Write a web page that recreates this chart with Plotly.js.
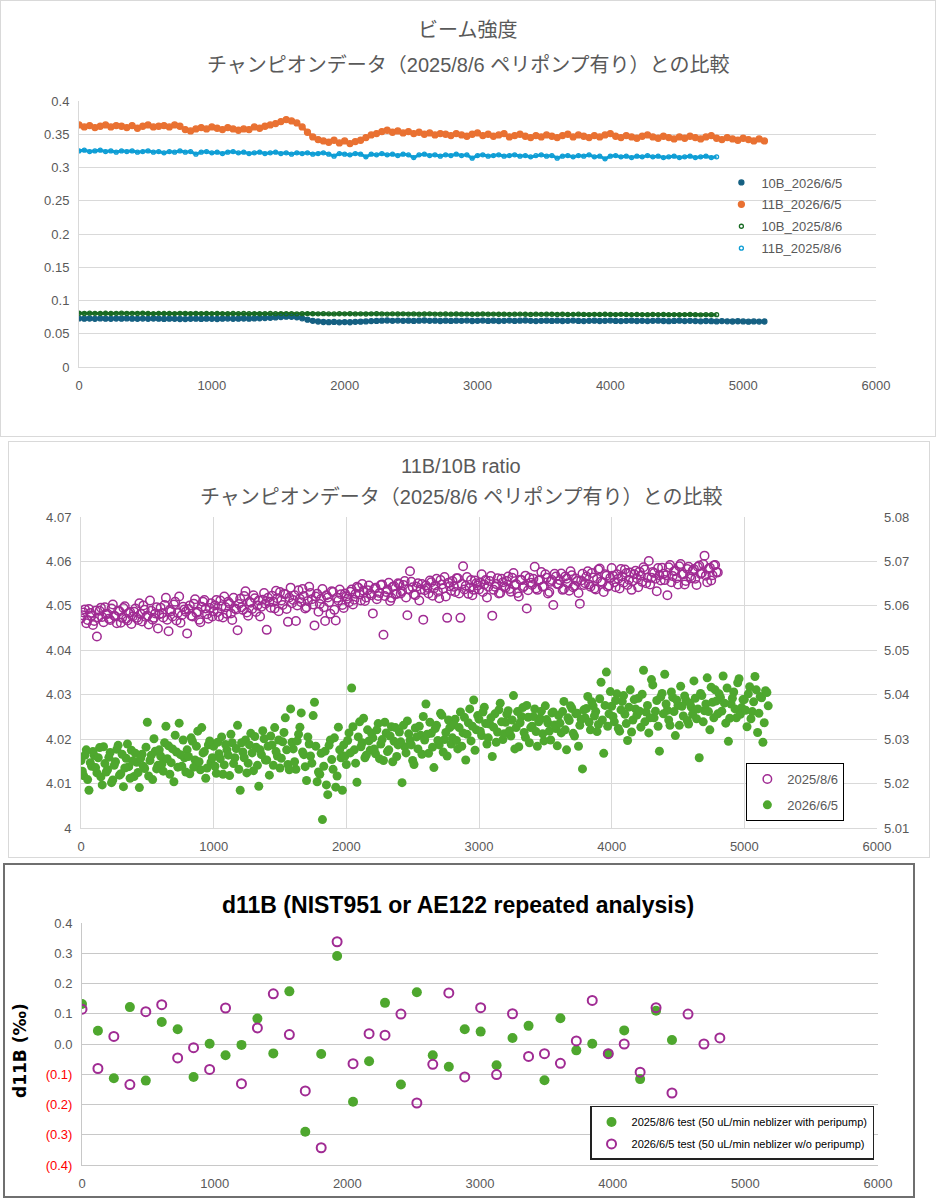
<!DOCTYPE html>
<html>
<head>
<meta charset="utf-8">
<script src="https://cdn.plot.ly/plotly-3.0.1.min.js"></script>
<style>
  body { margin: 0; background: #fff; }
  .panel { position: absolute; background: #fff; }
  #beam { left: 0; top: 0; width: 934px; height: 435px; border: 1px solid #d9d9d9; }
  #ratio { left: 8px; top: 441px; width: 920px; height: 415px; border: 1px solid #d9d9d9; }
  #delta { left: 3px; top: 863px; width: 908px; height: 331px; border: 2px solid #6f6f6f; }
</style>
</head>
<body>
<div id="beam" class="panel"></div>
<div id="ratio" class="panel"></div>
<div id="delta" class="panel"></div>
<script>
// ---- beam intensity, one reading every 40 units ----
const BEAM_STEP = 40;
const beam10B_2026 = [
  .0731,.0726,.0729,.0724,.0730,.0727,.0725,.0729,.0726,.0730,
  .0727,.0724,.0728,.0725,.0729,.0726,.0723,.0727,.0725,.0722,
  .0720,.0724,.0726,.0723,.0727,.0725,.0722,.0726,.0728,.0725,
  .0727,.0729,.0726,.0730,.0733,.0736,.0740,.0745,.0752,.0757,
  .0755,.0748,.0732,.0712,.0695,.0684,.0677,.0674,.0678,.0672,
  .0676,.0673,.0679,.0682,.0686,.0690,.0693,.0697,.0699,.0695,
  .0698,.0694,.0697,.0693,.0696,.0699,.0694,.0697,.0692,.0696,
  .0693,.0697,.0694,.0698,.0692,.0695,.0698,.0693,.0696,.0692,
  .0695,.0698,.0693,.0696,.0699,.0694,.0691,.0695,.0697,.0693,
  .0696,.0692,.0695,.0698,.0693,.0690,.0694,.0697,.0692,.0695,
  .0698,.0693,.0690,.0694,.0696,.0692,.0695,.0691,.0694,.0697,
  .0692,.0689,.0693,.0696,.0691,.0694,.0690,.0687,.0692,.0689,
  .0686,.0690,.0687,.0684,.0688,.0685,.0682,.0686,.0683,.0684
];
const beam11B_2026 = [
  .364,.361,.363,.360,.362,.364,.361,.363,.362,.360,
  .363,.359,.362,.364,.361,.362,.363,.361,.364,.362,
  .357,.355,.358,.360,.358,.361,.359,.357,.360,.358,
  .356,.358,.357,.361,.359,.362,.364,.366,.369,.372,
  .370,.367,.361,.353,.346,.342,.340,.338,.341,.337,
  .340,.336,.339,.341,.345,.349,.351,.354,.356,.353,
  .355,.352,.354,.351,.353,.350,.352,.349,.351,.350,
  .348,.351,.349,.347,.350,.352,.348,.350,.347,.349,
  .351,.346,.348,.350,.347,.345,.348,.346,.349,.347,
  .345,.348,.350,.346,.349,.347,.345,.348,.346,.349,
  .351,.347,.345,.348,.346,.344,.347,.349,.346,.344,
  .347,.345,.343,.346,.344,.347,.345,.343,.346,.348,
  .344,.342,.345,.343,.341,.344,.342,.340,.343,.340
];
const beam10B_2025 = [
  .0808,.0806,.0809,.0807,.0805,.0808,.0806,.0807,.0809,.0805,
  .0807,.0805,.0808,.0806,.0804,.0807,.0805,.0806,.0804,.0807,
  .0805,.0803,.0806,.0804,.0805,.0803,.0806,.0804,.0802,.0805,
  .0803,.0805,.0802,.0804,.0801,.0803,.0805,.0802,.0804,.0801,
  .0803,.0800,.0802,.0804,.0801,.0799,.0802,.0800,.0798,.0801,
  .0799,.0801,.0798,.0800,.0797,.0799,.0801,.0798,.0796,.0799,
  .0797,.0799,.0796,.0798,.0795,.0797,.0799,.0796,.0794,.0797,
  .0795,.0797,.0794,.0796,.0793,.0795,.0797,.0794,.0796,.0793,
  .0795,.0792,.0794,.0796,.0793,.0791,.0794,.0792,.0795,.0793,
  .0791,.0793,.0790,.0792,.0794,.0791,.0789,.0792,.0790,.0793,
  .0791,.0789,.0792,.0790,.0788,.0791,.0789,.0787,.0790,.0788,
  .0790,.0787,.0789,.0786,.0788,.0790,.0787,.0785,.0788,.0786,
  .0787
];
const beam11B_2025 = [
  .325,.326,.324,.325,.326,.324,.325,.323,.325,.324,
  .325,.323,.324,.325,.323,.324,.322,.324,.323,.325,
  .323,.324,.320,.323,.324,.322,.323,.321,.323,.324,
  .322,.323,.321,.322,.323,.321,.322,.323,.321,.322,
  .320,.322,.321,.322,.320,.321,.322,.320,.317,.321,
  .320,.319,.321,.320,.316,.320,.319,.321,.319,.320,
  .318,.320,.319,.315,.319,.320,.318,.319,.317,.319,
  .318,.320,.318,.319,.314,.318,.319,.317,.318,.319,
  .317,.318,.319,.317,.318,.316,.318,.319,.317,.318,
  .314,.317,.318,.316,.318,.317,.319,.316,.317,.313,
  .317,.318,.316,.317,.315,.317,.316,.318,.316,.317,
  .315,.316,.317,.315,.316,.317,.315,.316,.317,.315,
  .316
];
const beamNames = ['10B_2026/6/5', '11B_2026/6/5', '10B_2025/8/6', '11B_2025/8/6'];

// ---- 11B/10B ratio: readings every 20 units, plus the readings taken halfway between ----
const RATIO_STEP = 20;
const ratio2026 = [
  4.0152,4.0118,4.0176,4.0085,4.0139,4.0163,4.0124,4.0181,4.0097,4.0145,
  4.0131,4.0170,4.0108,4.0149,4.0186,4.0122,4.0093,4.0157,4.0138,4.0175,
  4.0116,4.0148,4.0091,4.0166,4.0134,4.0238,4.0152,4.0109,4.0173,4.0141,
  4.0162,4.0128,4.0229,4.0185,4.0147,4.0104,4.0171,4.0236,4.0139,4.0158,
  4.0176,4.0122,4.0195,4.0153,4.0218,4.0131,4.0169,4.0112,4.0187,4.0148,
  4.0184,4.0123,4.0167,4.0205,4.0142,4.0176,4.0118,4.0192,4.0158,4.0231,
  4.0085,4.0171,4.0198,4.0146,4.0213,4.0129,4.0182,4.0094,4.0165,4.0201,
  4.0153,4.0119,4.0187,4.0226,4.0162,4.0135,4.0194,4.0248,4.0143,4.0268,
  4.0178,4.0132,4.0211,4.0259,4.0165,4.0107,4.0189,4.0146,4.0283,4.0104,
  4.0121,4.0019,4.0173,4.0075,4.0198,4.0132,4.0092,4.0227,4.0158,4.0187,
  4.0143,4.0214,4.0315,4.0176,4.0103,4.0239,4.0192,4.0158,4.0221,4.0175,
  4.0203,4.0167,4.0235,4.0189,4.0152,4.0214,4.0176,4.0228,4.0195,4.0161,
  4.0216,4.0102,4.0183,4.0241,4.0197,4.0152,4.0225,4.0178,4.0209,4.0251,
  4.0279,4.0168,4.0213,4.0136,4.0231,4.0187,4.0254,4.0199,4.0162,4.0226,
  4.0203,4.0245,4.0178,4.0261,4.0214,4.0153,4.0237,4.0196,4.0288,4.0221,
  4.0245,4.0208,4.0272,4.0189,4.0234,4.0161,4.0257,4.0216,4.0281,4.0199,
  4.0238,4.0264,4.0207,4.0298,4.0226,4.0183,4.0251,4.0215,4.0276,4.0192,
  4.0229,4.0268,4.0184,4.0247,4.0212,4.0275,4.0236,4.0198,4.0261,4.0224,
  4.0253,4.0214,4.0285,4.0176,4.0242,4.0269,4.0207,4.0258,4.0231,4.0133,
  4.0248,4.0296,4.0221,4.0275,4.0262,4.0233,4.0328,4.0168,4.0351,4.0257,
  4.0274,4.0239,4.0302,4.0218,4.0285,4.0256,4.0197,4.0311,4.0243,4.0268,
  4.0292,4.0227,4.0355,4.0261,4.0214,4.0334,4.0248,4.0287,4.0173,4.0303,
  4.0346,4.0265,4.0231,4.0294,4.0208,4.0276,4.0319,4.0252,4.0287,4.0234,
  4.0272,4.0331,4.0246,4.0158,4.0298,4.0264,4.0338,4.0221,4.0283,4.0311,
  4.0257,4.0294,4.0342,4.0236,4.0195,4.0279,4.0306,4.0248,4.0336,4.0271,
  4.0289,4.0228,4.0318,4.0262,4.0341,4.0215,4.0296,4.0193,4.0309,4.0275
];
const ratio2026Mid = [
  4.0128,4.0164,4.0109,4.0147,4.0172,4.0136,4.0158,4.0115,4.0183,4.0126,
  4.0159,4.0102,4.0141,4.0177,4.0119,4.0166,4.0135,4.0189,4.0112,4.0151,
  4.0168,4.0125,4.0157,4.0139,4.0182,4.0117,4.0164,4.0201,4.0133,4.0176,
  4.0144,4.0192,4.0156,4.0121,4.0178,4.0209,4.0137,4.0165,4.0198,4.0126,
  4.0161,4.0203,4.0137,4.0184,4.0149,4.0226,4.0172,4.0135,4.0196,4.0158,
  4.0139,4.0193,4.0156,4.0121,4.0188,4.0164,4.0211,4.0145,4.0179,4.0132,
  4.0192,4.0158,4.0124,4.0187,4.0169,4.0206,4.0141,4.0176,4.0219,4.0153,
  4.0184,4.0207,4.0141,4.0172,4.0198,4.0157,4.0215,4.0176,4.0131,4.0193,
  4.0149,4.0196,4.0227,4.0171,4.0138,4.0205,4.0162,4.0253,4.0184,4.0126,
  4.0168,4.0139,4.0097,4.0186,4.0154,4.0203,4.0117,4.0176,4.0085,4.0162,
  4.0197,4.0169,4.0228,4.0146,4.0205,4.0183,4.0247,4.0164,4.0196,4.0213,
  4.0178,4.0221,4.0156,4.0199,4.0238,4.0172,4.0207,4.0149,4.0226,4.0187,
  4.0194,4.0231,4.0169,4.0212,4.0187,4.0143,4.0205,4.0229,4.0166,4.0198,
  4.0211,4.0238,4.0182,4.0224,4.0197,4.0258,4.0171,4.0215,4.0243,4.0189,
  4.0232,4.0197,4.0226,4.0184,4.0249,4.0211,4.0268,4.0229,4.0175,4.0253,
  4.0218,4.0261,4.0235,4.0203,4.0248,4.0227,4.0193,4.0266,4.0239,4.0212,
  4.0256,4.0219,4.0243,4.0178,4.0262,4.0237,4.0271,4.0204,4.0249,4.0226,
  4.0251,4.0217,4.0239,4.0263,4.0196,4.0244,4.0218,4.0259,4.0232,4.0185,
  4.0236,4.0262,4.0221,4.0248,4.0275,4.0213,4.0257,4.0184,4.0244,4.0266,
  4.0269,4.0238,4.0284,4.0252,4.0217,4.0291,4.0243,4.0276,4.0229,4.0307,
  4.0251,4.0287,4.0224,4.0266,4.0298,4.0235,4.0272,4.0216,4.0289,4.0254,
  4.0263,4.0301,4.0239,4.0276,4.0248,4.0322,4.0263,4.0229,4.0295,4.0257,
  4.0279,4.0243,4.0306,4.0262,4.0288,4.0231,4.0274,4.0297,4.0242,4.0281,
  4.0256,4.0292,4.0268,4.0303,4.0239,4.0279,4.0262,4.0317,4.0248,4.0286,
  4.0302,4.0263,4.0281,4.0315,4.0247,4.0292,4.0268,4.0327,4.0256,4.0289,
  4.0265,4.0302,4.0246,4.0284,4.0311,4.0258,4.0293,4.0237,4.0305
];
const ratio2025 = [
  4.0472,4.0485,4.0461,4.0493,4.0478,4.0466,4.0431,4.0489,4.0475,4.0497,
  4.0482,4.0468,4.0503,4.0476,4.0489,4.0462,4.0495,4.0471,4.0484,4.0459,
  4.0487,4.0473,4.0506,4.0465,4.0491,4.0478,4.0512,4.0469,4.0483,4.0449,
  4.0496,4.0474,4.0518,4.0443,4.0488,4.0503,4.0467,4.0521,4.0479,4.0492,
  4.0438,4.0501,4.0476,4.0515,4.0487,4.0463,4.0509,4.0494,4.0471,4.0506,
  4.0488,4.0513,4.0476,4.0499,4.0521,4.0482,4.0505,4.0468,4.0494,4.0445,
  4.0516,4.0491,4.0533,4.0478,4.0507,4.0524,4.0486,4.0512,4.0498,4.0529,
  4.0446,4.0509,4.0523,4.0494,4.0517,4.0531,4.0502,4.0526,4.0464,4.0541,
  4.0513,4.0466,4.0535,4.0508,4.0522,4.0497,4.0543,4.0515,4.0456,4.0527,
  4.0504,4.0538,4.0466,4.0519,4.0482,4.0531,4.0467,4.0512,4.0526,4.0495,
  4.0521,4.0508,4.0537,4.0514,4.0543,4.0526,4.0549,4.0511,4.0535,4.0528,
  4.0483,4.0541,4.0522,4.0547,4.0435,4.0531,4.0552,4.0518,4.0544,4.0527,
  4.0549,4.0533,4.0556,4.0479,4.0578,4.0542,4.0524,4.0551,4.0537,4.0469,
  4.0546,4.0528,4.0553,4.0539,4.0561,4.0517,4.0548,4.0565,4.0473,4.0544,
  4.0556,4.0531,4.0562,4.0473,4.0589,4.0545,4.0527,4.0558,4.0536,4.0551,
  4.0537,4.0571,4.0548,4.0519,4.0556,4.0478,4.0543,4.0562,4.0529,4.0553,
  4.0541,4.0566,4.0532,4.0574,4.0549,4.0521,4.0558,4.0544,4.0494,4.0563,
  4.0547,4.0588,4.0536,4.0559,4.0543,4.0571,4.0528,4.0554,4.0502,4.0566,
  4.0549,4.0573,4.0538,4.0561,4.0534,4.0569,4.0545,4.0556,4.0505,4.0572,
  4.0551,4.0578,4.0543,4.0564,4.0537,4.0582,4.0555,4.0531,4.0568,4.0546,
  4.0585,4.0553,4.0571,4.0539,4.0566,4.0582,4.0547,4.0575,4.0556,4.0579,
  4.0542,4.0568,4.0587,4.0551,4.0601,4.0563,4.0574,4.0533,4.0569,4.0586,
  4.0558,4.0524,4.0592,4.0567,4.0579,4.0548,4.0594,4.0571,4.0556,4.0588,
  4.0562,4.0583,4.0547,4.0591,4.0574,4.0613,4.0553,4.0586,4.0569,4.0592,
  4.0575
];
const ratio2025Mid = [
  4.0479,4.0492,4.0468,4.0484,4.0457,4.0489,4.0474,4.0496,4.0463,4.0481,
  4.0471,4.0494,4.0478,4.0461,4.0488,4.0473,4.0499,4.0467,4.0486,4.0476,
  4.0494,4.0468,4.0482,4.0501,4.0475,4.0458,4.0489,4.0473,4.0497,4.0481,
  4.0483,4.0502,4.0469,4.0491,4.0476,4.0509,4.0484,4.0462,4.0498,4.0487,
  4.0493,4.0478,4.0505,4.0484,4.0469,4.0498,4.0513,4.0481,4.0495,4.0476,
  4.0501,4.0486,4.0512,4.0474,4.0497,4.0509,4.0483,4.0518,4.0492,4.0504,
  4.0497,4.0522,4.0485,4.0509,4.0493,4.0517,4.0501,4.0476,4.0514,4.0505,
  4.0518,4.0496,4.0509,4.0534,4.0488,4.0512,4.0527,4.0493,4.0519,4.0506,
  4.0524,4.0501,4.0516,4.0538,4.0494,4.0511,4.0529,4.0503,4.0521,4.0487,
  4.0516,4.0497,4.0524,4.0508,4.0533,4.0491,4.0518,4.0537,4.0502,4.0528,
  4.0516,4.0532,4.0503,4.0527,4.0541,4.0512,4.0534,4.0519,4.0546,4.0524,
  4.0538,4.0515,4.0529,4.0548,4.0522,4.0537,4.0511,4.0543,4.0526,4.0551,
  4.0528,4.0547,4.0519,4.0538,4.0554,4.0526,4.0543,4.0512,4.0549,4.0535,
  4.0541,4.0557,4.0523,4.0546,4.0532,4.0558,4.0539,4.0521,4.0552,4.0534,
  4.0543,4.0562,4.0528,4.0549,4.0537,4.0565,4.0541,4.0524,4.0557,4.0546,
  4.0552,4.0531,4.0558,4.0543,4.0567,4.0536,4.0549,4.0528,4.0561,4.0544,
  4.0556,4.0538,4.0563,4.0547,4.0529,4.0559,4.0541,4.0568,4.0535,4.0552,
  4.0561,4.0539,4.0557,4.0576,4.0544,4.0563,4.0531,4.0558,4.0572,4.0549,
  4.0558,4.0536,4.0566,4.0551,4.0578,4.0542,4.0561,4.0529,4.0557,4.0547,
  4.0566,4.0548,4.0574,4.0539,4.0561,4.0584,4.0552,4.0571,4.0543,4.0563,
  4.0568,4.0542,4.0561,4.0583,4.0552,4.0574,4.0559,4.0536,4.0571,4.0562,
  4.0577,4.0554,4.0582,4.0563,4.0548,4.0576,4.0561,4.0585,4.0557,4.0572,
  4.0569,4.0587,4.0553,4.0578,4.0562,4.0589,4.0571,4.0548,4.0583,4.0566,
  4.0579,4.0561,4.0588,4.0572,4.0594,4.0568,4.0583,4.0557,4.0591,4.0576
];

// ---- d11B repeated analysis ----
const runX = [0,120,240,361,481,601,721,841,962,1082,1202,1322,1442,1563,1683,1803,1923,2043,2164,2284,
  2404,2524,2644,2765,2885,3005,3125,3245,3366,3486,3606,3726,3846,3967,4087,4207,4327,4447,4568,4688,4808];
const d11b2025 = [0.132,0.044,-0.113,0.122,-0.121,0.073,0.049,-0.109,0.001,-0.037,
  -0.003,0.084,-0.031,0.174,-0.290,-0.033,0.291,-0.191,-0.057,0.136,
  -0.134,0.171,-0.037,-0.075,0.049,0.041,-0.070,0.020,0.060,-0.120,
  0.085,-0.021,0.001,-0.032,0.045,-0.116,0.110,0.013];
const d11b2026 = [0.115,-0.081,0.025,-0.134,0.107,0.130,-0.046,-0.012,-0.084,0.119,
  -0.131,0.053,0.166,0.031,-0.155,-0.343,0.338,-0.065,0.034,0.029,
  0.099,-0.195,-0.067,0.169,-0.109,0.120,-0.101,0.100,-0.041,-0.032,
  -0.064,0.010,0.144,-0.032,0.000,-0.093,0.120,-0.162,0.099,0.000,0.020];
const d11bTicks = [-0.4, -0.3, -0.2, -0.1, 0, 0.1, 0.2, 0.3, 0.4];
const d11bTickText = ['(0.4)', '(0.3)', '(0.2)', '(0.1)', '0.0', '0.1', '0.2', '0.3', '0.4'];

const NARROW = '"Liberation Sans Narrow", "Arial Narrow", "Liberation Sans", "Noto Sans CJK JP", sans-serif';
const GRAY = '#595959';
const GRID = '#d9d9d9';
const config = { staticPlot: true, displayModeBar: false };

function xsFor(values, step, offset) {
  return values.map((v, i) => i * step + (offset || 0));
}

function baseAxis(extra) {
  return Object.assign({
    showgrid: true,
    gridcolor: GRID,
    gridwidth: 1,
    zeroline: false,
    showline: true,
    linecolor: GRID,
    linewidth: 1,
    ticks: '',
    tickfont: { family: NARROW, size: 13, color: GRAY },
    ticklabelstandoff: 6
  }, extra);
}

function titleNote(text, x, y, size) {
  return {
    text: text, xref: 'paper', yref: 'paper', x: x, y: y,
    xanchor: 'center', yanchor: 'middle', showarrow: false,
    font: { family: NARROW, size: size, color: GRAY }
  };
}

/**
 * Beam intensity panel (top).
 * Each series: a connecting band (no legend) under the marker trace.
 */
function drawBeam() {
  const series = [
    { y: beam10B_2026, color: '#156082', symbol: 'circle', size: 5, lw: 2.5 },
    { y: beam11B_2026, color: '#E97132', symbol: 'circle', size: 6, lw: 3 },
    { y: beam10B_2025, color: '#196B24', symbol: 'circle-open', size: 4, lw: 3 },
    { y: beam11B_2025, color: '#0F9ED5', symbol: 'circle-open', size: 4, lw: 3 }
  ];
  const bands = series.map(s => ({
    x: xsFor(s.y, BEAM_STEP), y: s.y, type: 'scatter', mode: 'lines',
    line: { color: s.color, width: s.lw }, showlegend: false, hoverinfo: 'skip'
  }));
  const dots = series.map((s, k) => ({
    x: xsFor(s.y, BEAM_STEP),
    y: s.y,
    name: beamNames[k],
    legendgroup: 'g' + k,
    type: 'scatter',
    mode: 'markers',
    marker: { symbol: s.symbol, size: s.size, color: s.color, line: { color: s.color, width: 1.3 } },
    hoverinfo: 'skip'
  }));
  const layout = {
    width: 934, height: 435,
    margin: { l: 78, r: 59, t: 100, b: 69 },
    paper_bgcolor: '#fff', plot_bgcolor: '#fff',
    xaxis: baseAxis({ range: [0, 6000], dtick: 1000, showgrid: false }),
    yaxis: baseAxis({ range: [0, 0.4], dtick: 0.05 }),
    showlegend: true,
    legend: {
      x: 0.806, y: 0.75, xanchor: 'left', yanchor: 'top',
      font: { family: NARROW, size: 13, color: GRAY },
      tracegroupgap: 2, itemwidth: 30, bgcolor: 'rgba(0,0,0,0)'
    },
    annotations: [
      titleNote('ビーム強度', 0.488, 1.267, 20),
      titleNote('チャンピオンデータ（2025/8/6 ペリポンプ有り）との比較', 0.488, 1.135, 20)
    ]
  };
  Plotly.newPlot('beam', bands.concat(dots), layout, config);
}

/**
 * 11B/10B ratio panel (middle).
 */
function drawRatio() {
  const half = RATIO_STEP / 2;
  const traces = [
    {
      x: xsFor(ratio2025, RATIO_STEP).concat(xsFor(ratio2025Mid, RATIO_STEP, half)),
      y: ratio2025.concat(ratio2025Mid),
      name: '2025/8/6', legendgroup: 'a',
      type: 'scatter', mode: 'markers', hoverinfo: 'skip',
      marker: { symbol: 'circle-open', size: 8.5, color: '#A02B93', line: { width: 1.5, color: '#A02B93' } }
    },
    {
      x: xsFor(ratio2026, RATIO_STEP).concat(xsFor(ratio2026Mid, RATIO_STEP, half)),
      y: ratio2026.concat(ratio2026Mid),
      name: '2026/6/5', legendgroup: 'b',
      type: 'scatter', mode: 'markers', hoverinfo: 'skip',
      marker: { symbol: 'circle', size: 9, color: '#4EA72E' }
    },
    { x: [null], y: [null], yaxis: 'y2', showlegend: false, hoverinfo: 'skip', type: 'scatter', mode: 'markers' }
  ];
  const layout = {
    width: 920, height: 415,
    margin: { l: 72, r: 52, t: 75, b: 29 },
    paper_bgcolor: '#fff', plot_bgcolor: '#fff',
    xaxis: baseAxis({ range: [0, 6000], dtick: 1000 }),
    yaxis: baseAxis({ range: [4, 4.07], dtick: 0.01 }),
    yaxis2: baseAxis({ range: [5.01, 5.08], dtick: 0.01, overlaying: 'y', side: 'right', showgrid: false, showline: false }),
    showlegend: true,
    legend: {
      x: 0.959, y: 0.209, xanchor: 'right', yanchor: 'top',
      font: { family: NARROW, size: 13, color: GRAY },
      bordercolor: '#000', borderwidth: 1, bgcolor: '#fff',
      tracegroupgap: 6, itemwidth: 30
    },
    annotations: [
      titleNote('11B/10B ratio', 0.477, 1.164, 20),
      titleNote('チャンピオンデータ（2025/8/6 ペリポンプ有り）との比較', 0.477, 1.064, 20)
    ]
  };
  Plotly.newPlot('ratio', traces, layout, config);
}

/**
 * d11B repeated analysis panel (bottom).
 */
function drawDelta() {
  const tickText = d11bTickText.map(t => t.startsWith('(')
    ? '<span style="fill:#ff0000">' + t + '</span>' : t);
  const traces = [
    {
      x: runX.slice(0, d11b2025.length), y: d11b2025,
      name: '2025/8/6 test (50 uL/min neblizer with peripump)', legendgroup: 'a',
      type: 'scatter', mode: 'markers', hoverinfo: 'skip',
      marker: { symbol: 'circle', size: 10, color: '#4EA72E' }
    },
    {
      x: runX.slice(0, d11b2026.length), y: d11b2026,
      name: '2026/6/5 test (50 uL/min neblizer w/o peripump)', legendgroup: 'b',
      type: 'scatter', mode: 'markers', hoverinfo: 'skip',
      marker: { symbol: 'circle-open', size: 9, color: '#A02B93', line: { width: 2, color: '#A02B93' } }
    }
  ];
  const layout = {
    width: 908, height: 331,
    margin: { l: 77, r: 35, t: 58, b: 31 },
    paper_bgcolor: '#fff', plot_bgcolor: '#fff',
    xaxis: baseAxis({ range: [0, 6000], dtick: 1000, showgrid: false, linecolor: '#c8c8c8' }),
    yaxis: baseAxis({ range: [-0.4, 0.4], tickmode: 'array', tickvals: d11bTicks, ticktext: tickText,
                      gridcolor: '#c8c8c8', linecolor: '#c8c8c8' }),
    showlegend: true,
    legend: {
      x: 0.995, y: 0.244, xanchor: 'right', yanchor: 'top',
      font: { family: NARROW, size: 11, color: '#000' },
      bordercolor: '#222', borderwidth: 1.5, bgcolor: '#fff',
      tracegroupgap: 3, itemwidth: 30
    },
    annotations: [
      {
        text: '<b>d11B (NIST951 or AE122 repeated analysis)</b>', xref: 'paper', yref: 'paper',
        x: 0.472, y: 1.074, xanchor: 'center', yanchor: 'middle', showarrow: false,
        font: { family: NARROW, size: 23, color: '#000' }
      },
      {
        text: '<b>d11B (‰)</b>', xref: 'paper', yref: 'paper', x: -0.078, y: 0.475,
        xanchor: 'center', yanchor: 'middle', textangle: -90, showarrow: false,
        font: { family: '"DejaVu Sans", sans-serif', size: 17, color: '#000' }
      }
    ]
  };
  Plotly.newPlot('delta', traces, layout, config);
}

drawBeam();
drawRatio();
drawDelta();
</script>
</body>
</html>
